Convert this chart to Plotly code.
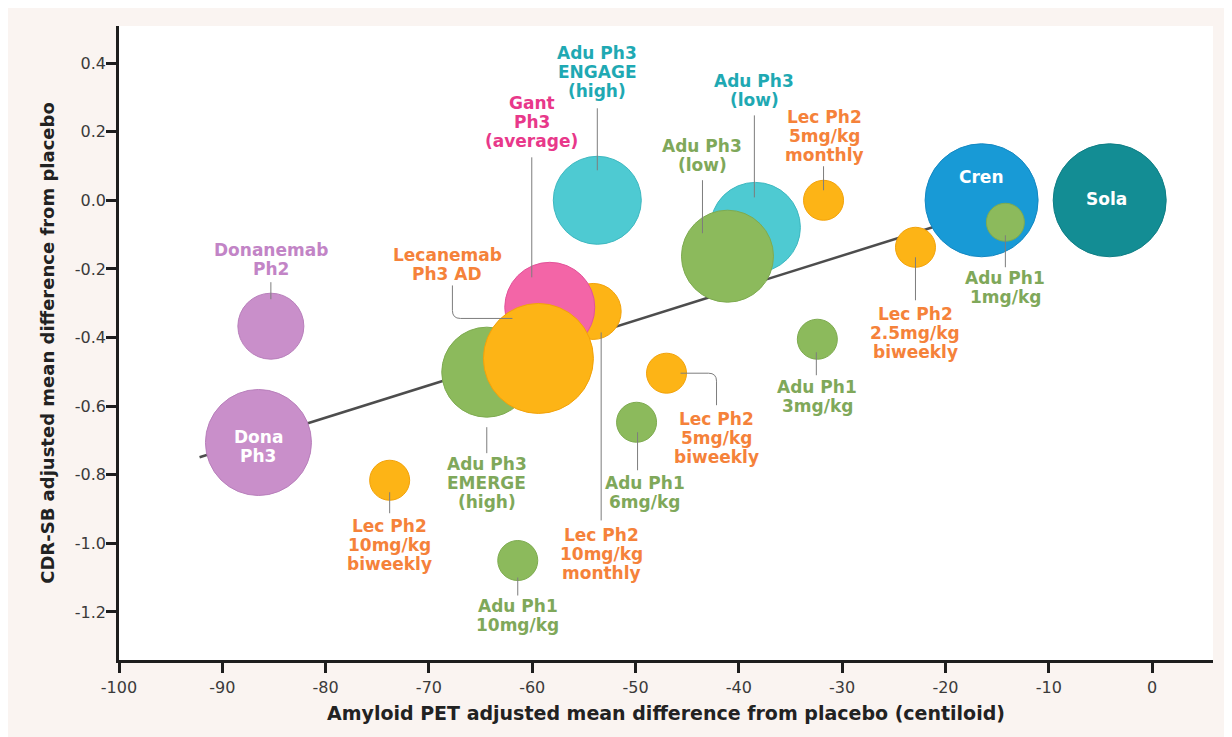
import plotly.graph_objects as go

# ---------------- data ----------------
names = [
    "Donanemab Ph2", "Dona Ph3", "Cren", "Sola", "Adu Ph1 1mg/kg",
    "Adu Ph3 ENGAGE (high)", "Adu Ph3 ENGAGE (low)", "Adu Ph3 EMERGE (low)",
    "Lec Ph2 10mg/kg monthly", "Gant Ph3 (average)", "Adu Ph3 EMERGE (high)",
    "Lecanemab Ph3 AD", "Lec Ph2 10mg/kg biweekly", "Lec Ph2 5mg/kg monthly",
    "Lec Ph2 2.5mg/kg biweekly", "Adu Ph1 3mg/kg", "Lec Ph2 5mg/kg biweekly",
    "Adu Ph1 6mg/kg", "Adu Ph1 10mg/kg",
]
amyloid = [-85.3, -86.5, -16.5, -4.1, -14.2,
           -53.7, -38.4, -41.1,
           -54.1, -58.3, -64.4,
           -59.4, -73.8, -31.8,
           -22.9, -32.4, -47.0,
           -49.9, -61.4]
cdrsb = [-0.367, -0.706, 0.0, 0.0, -0.064,
         0.0, -0.079, -0.163,
         -0.324, -0.312, -0.501,
         -0.461, -0.816, 0.0,
         -0.137, -0.405, -0.504,
         -0.647, -1.05]
bubble_size = [66, 106, 113, 113, 38,
               88, 90, 92,
               56, 90, 90,
               110, 40, 40,
               40, 40, 40,
               40, 40]
group = ["dona", "dona", "cren", "sola", "adu",
         "engage", "engage", "adu",
         "lec", "gant", "adu",
         "lec", "lec", "lec",
         "lec", "adu", "lec",
         "adu", "adu"]
label_lines = [
    ["Donanemab", "Ph2"], ["Dona", "Ph3"], ["Cren"], ["Sola"], ["Adu Ph1", "1mg/kg"],
    ["Adu Ph3", "ENGAGE", "(high)"], ["Adu Ph3", "(low)"], ["Adu Ph3", "(low)"],
    ["Lec Ph2", "10mg/kg", "monthly"], ["Gant", "Ph3", "(average)"], ["Adu Ph3", "EMERGE", "(high)"],
    ["Lecanemab", "Ph3 AD"], ["Lec Ph2", "10mg/kg", "biweekly"], ["Lec Ph2", "5mg/kg", "monthly"],
    ["Lec Ph2", "2.5mg/kg", "biweekly"], ["Adu Ph1", "3mg/kg"], ["Lec Ph2", "5mg/kg", "biweekly"],
    ["Adu Ph1", "6mg/kg"], ["Adu Ph1", "10mg/kg"],
]

trend_x = [-92.2, -18.0]
trend_y = [-0.749, -0.048]

x_tick_vals = [-100, -90, -80, -70, -60, -50, -40, -30, -20, -10, 0]
x_tick_text = ["-100", "-90", "-80", "-70", "-60", "-50", "-40", "-30", "-20", "-10", "0"]
y_tick_vals = [0.4, 0.2, 0.0, -0.2, -0.4, -0.6, -0.8, -1.0, -1.2]
y_tick_text = ["0.4", "0.2", "0.0", "-0.2", "-0.4", "-0.6", "-0.8", "-1.0", "-1.2"]

x_title = "Amyloid PET adjusted mean difference from placebo (centiloid)"
y_title = "CDR-SB adjusted mean difference from placebo"

# ---------------- styles ----------------
FILL = {"dona": "#c98fca", "lec": "#fdb416", "adu": "#8cba5c", "engage": "#4ecad2",
        "gant": "#f365a7", "cren": "#189ad6", "sola": "#138d94"}
EDGE = {"dona": "#b87fbb", "lec": "#f2a20a", "adu": "#7eab50", "engage": "#3db8c0",
        "gant": "#e2539a", "cren": "#1488c2", "sola": "#0f7e85"}
TEXT = {"dona": "#c284c6", "lec": "#f5823a", "adu": "#7fa85a", "engage": "#1fa9b3",
        "gant": "#e8388a", "cren": "#ffffff", "sola": "#ffffff"}
LEADER = "#7d7d7d"

FONT = "DejaVu Sans"
LABEL_SIZE = 17
LINE_STEP = 19
XR = [-100, 5.9]
YR = [-1.34, 0.508]
W, H = 1232, 737
ML, MR, MT, MB = 111, 27, 18, 85
PW = W - ML - MR
PH = H - MT - MB


def dx(px):
    return px * (XR[1] - XR[0]) / PW


def dy(px):  # px measured downward on screen
    return -px * (YR[1] - YR[0]) / PH


# label text-centre offset from bubble centre (px, screen down positive), text colour override,
# and leader polyline (px offsets from bubble centre; 'Q' marks a rounded corner)
LABEL_POS = {
    0: ((0, -67), None, [(0, -44), (0, -27)]),
    1: ((0, 4), "#ffffff", None),
    2: ((0, -23), None, None),
    3: ((-3, -1), None, None),
    4: ((0, 65), None, [(0, 13), (0, 45)]),
    5: ((0, -128), None, [(0, -92), (0, -30)]),
    6: ((-1, -137), None, [(-1, -112), (-1, -30)]),
    7: ((-25, -101), None, [(-25, -76), (-25, -23)]),
    8: ((8, 243), None, [(8, 21), (8, 209)]),
    9: ((-18, -185), None, [(-18, -150), (-18, -30)]),
    10: ((0, 111), None, [(0, 55), (0, 81)]),
    11: ((-91, -94), None, [(-86, -73), (-86, -48), "Q", (-86, -40), (-78, -40), (-26, -40)]),
    12: ((0, 65), None, [(0, 12), (0, 33)]),
    13: ((1, -64), None, [(0, -34), (0, -10)]),
    14: ((0, 86), None, [(0, 10), (0, 53)]),
    15: ((0, 57), None, [(-1, 13), (-1, 36)]),
    16: ((50, 65), None, [(14, 0), (42, 0), "Q", (50, 0), (50, 8), (50, 32)]),
    17: ((8, 70), None, [(1, 10), (1, 48)]),
    18: ((0, 55), None, [(0, 17), (0, 35)]),
}

fig = go.Figure()

# trend line
fig.add_trace(go.Scatter(x=trend_x, y=trend_y, mode="lines",
                         line=dict(color="#4d4d4d", width=2.5),
                         hoverinfo="skip", showlegend=False))

# bubbles
fig.add_trace(go.Scatter(
    x=amyloid, y=cdrsb, mode="markers", text=names,
    marker=dict(size=bubble_size, sizemode="diameter",
                color=[FILL[g] for g in group], opacity=1,
                line=dict(color=[EDGE[g] for g in group], width=1)),
    hovertemplate="%{text}<br>%{x}, %{y}<extra></extra>", showlegend=False))

annotations = []
shapes = [dict(type="rect", xref="paper", yref="paper", layer="below",
               x0=0, x1=1, y0=0, y1=1, fillcolor="#ffffff", line=dict(width=0))]

for i, lines in enumerate(label_lines):
    (cx, cy), col_override, leader = LABEL_POS[i]
    col = col_override or TEXT[group[i]]
    n = len(lines)
    for k, line in enumerate(lines):
        off = cy + (k - (n - 1) / 2) * LINE_STEP
        annotations.append(dict(
            text="<b>" + line + "</b>", x=amyloid[i], y=cdrsb[i], xref="x", yref="y",
            xshift=cx, yshift=-off, showarrow=False, xanchor="center", yanchor="middle",
            font=dict(family=FONT, size=LABEL_SIZE, color=col)))
    if leader:
        bx, by = amyloid[i], cdrsb[i]
        parts = []
        j = 0
        first = True
        while j < len(leader):
            p = leader[j]
            if p == "Q":
                c, e = leader[j + 1], leader[j + 2]
                parts.append(f"Q {bx + dx(c[0])},{by + dy(c[1])} {bx + dx(e[0])},{by + dy(e[1])}")
                j += 3
                continue
            parts.append(("M " if first else "L ") + f"{bx + dx(p[0])},{by + dy(p[1])}")
            first = False
            j += 1
        shapes.append(dict(type="path", xref="x", yref="y", path=" ".join(parts),
                           line=dict(color=LEADER, width=1), layer="above"))

axis_common = dict(showgrid=False, zeroline=False, showline=True, linecolor="#1e1e1e",
                   linewidth=2.5, ticks="outside", tickwidth=2.5, tickcolor="#1e1e1e",
                   ticklen=10, tickfont=dict(family=FONT, size=16, color="#3a3a3a"),
                   automargin=False)

fig.update_layout(
    width=W, height=H,
    margin=dict(l=ML, r=MR, t=MT, b=MB),
    paper_bgcolor="#faf4f1",
    plot_bgcolor="rgba(0,0,0,0)",
    xaxis=dict(axis_common, range=XR, tickvals=x_tick_vals, ticktext=x_tick_text,
               ticklabelstandoff=1,
               title=dict(text="<b>" + x_title + "</b>", standoff=11,
                          font=dict(family=FONT, size=19, color="#222222"))),
    yaxis=dict(axis_common, range=YR, tickvals=y_tick_vals, ticktext=y_tick_text,
               ticklabelstandoff=-3,
               title=dict(text="<b>" + y_title + "</b>", standoff=16,
                          font=dict(family=FONT, size=18, color="#222222"))),
    annotations=annotations,
    shapes=shapes,
    showlegend=False,
)

fig.write_html("out.html")
